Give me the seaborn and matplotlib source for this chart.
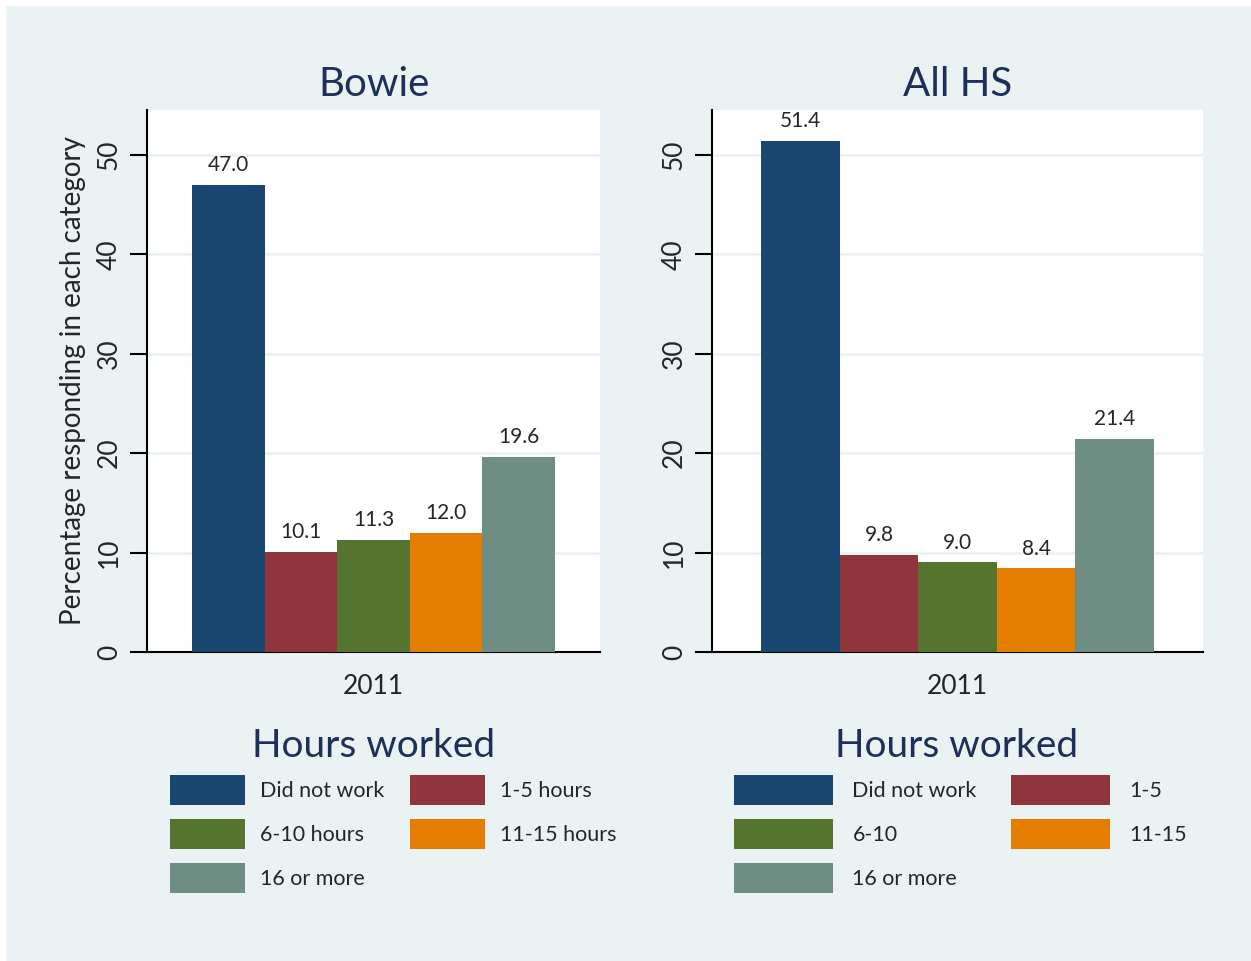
"""
Hours worked per week, Bowie vs all high schools (2011).
"""
import numpy as np
import pandas as pd
import matplotlib
matplotlib.use("Agg")
import matplotlib.pyplot as plt
from matplotlib.patches import Rectangle
import seaborn as sns

# --- data ---
YEAR = ["2011"]
BOWIE_LABELS = ["Did not work", "1-5 hours", "6-10 hours", "11-15 hours", "16 or more"]
BOWIE_VALUES = [47.0, 10.1, 11.3, 12.0, 19.6]
ALLHS_LABELS = ["Did not work", "1-5", "6-10", "11-15", "16 or more"]
ALLHS_VALUES = [51.4, 9.8, 9.0, 8.4, 21.4]
PANEL_TITLES = ["Bowie", "All HS"]
LEGEND_TITLE = "Hours worked"
Y_TICKS = [0, 10, 20, 30, 40, 50]

COLORS = ["#1A476F", "#90353B", "#55752F", "#E37E00", "#6E8E84"]
BG = "#EAF2F3"
NAVY = "#1E2F5A"

sns.set_style("white")
plt.rcParams["font.family"] = ["Lato", "DejaVu Sans"]

fig = plt.figure(figsize=(12.51, 9.61), dpi=100)
fig.patch.set_facecolor("white")
fig.patches.append(Rectangle((6 / 1251, 0), 1, 1 - 6 / 961, transform=fig.transFigure,
                             facecolor=BG, edgecolor="none", zorder=-10))

W, H = 1251, 961


def fx(px):
    return px / W


def fy(px):
    return 1 - px / H


panels = [
    dict(labels=BOWIE_LABELS, values=BOWIE_VALUES, left=147, right=600,
         leg_x=170, title_x=374, hlen=3.47, hpad=0.7, cspace=1.2),
    dict(labels=ALLHS_LABELS, values=ALLHS_VALUES, left=712, right=1203,
         leg_x=734, title_x=957, hlen=4.6, hpad=0.9, cspace=1.6),
]

for i, p in enumerate(panels):
    ax = fig.add_axes([fx(p["left"]), fy(652), fx(p["right"] - p["left"]), (652 - 110) / H])
    df = pd.DataFrame({"year": YEAR * len(p["labels"]), "hours": p["labels"], "pct": p["values"]})
    sns.barplot(data=df, x="year", y="pct", hue="hours", hue_order=p["labels"],
                palette=COLORS, width=0.8, ax=ax, saturation=1, legend=False,
                edgecolor="none", zorder=3)
    for c in ax.containers:
        ax.bar_label(c, fmt="%.1f", padding=7, fontsize=15)

    ax.set_facecolor("white")
    ax.set_ylim(0, 54.5)
    ax.set_yticks(Y_TICKS)
    ax.set_yticklabels([str(t) for t in Y_TICKS], rotation=90, va="center", fontsize=19)
    ax.yaxis.grid(True, color=BG, linewidth=2, zorder=0)
    ax.set_axisbelow(True)
    ax.tick_params(axis="y", direction="out", length=12, width=1.5, color="black",
                   left=True, pad=6)
    ax.tick_params(axis="x", length=0, labelsize=19, pad=16)
    for s in ["top", "right"]:
        ax.spines[s].set_visible(False)
    for s in ["left", "bottom"]:
        ax.spines[s].set_color("black")
        ax.spines[s].set_linewidth(1.5)
    ax.set_xlabel("")
    ax.set_ylabel("Percentage responding in each category" if i == 0 else "",
                  fontsize=20, labelpad=8)
    ax.set_title(PANEL_TITLES[i], fontsize=29, color=NAVY, pad=10)

    # legend below each panel, entries filled row by row
    handles = [Rectangle((0, 0), 1, 1, facecolor=col, edgecolor="none") for col in COLORS]
    order = [0, 2, 4, 1, 3]
    fig.legend([handles[k] for k in order], [p["labels"][k] for k in order],
               ncol=2, loc="upper left", bbox_to_anchor=(fx(p["leg_x"]), fy(775)),
               frameon=False, fontsize=15.5, handlelength=p["hlen"], handleheight=1.75,
               handletextpad=p["hpad"], columnspacing=p["cspace"],
               labelspacing=0.66, borderpad=0, borderaxespad=0)
    fig.text(fx(p["title_x"]), fy(757), LEGEND_TITLE, ha="center", va="baseline",
             fontsize=28, color=NAVY)

fig.savefig("out.png", dpi=100, facecolor=fig.get_facecolor())
